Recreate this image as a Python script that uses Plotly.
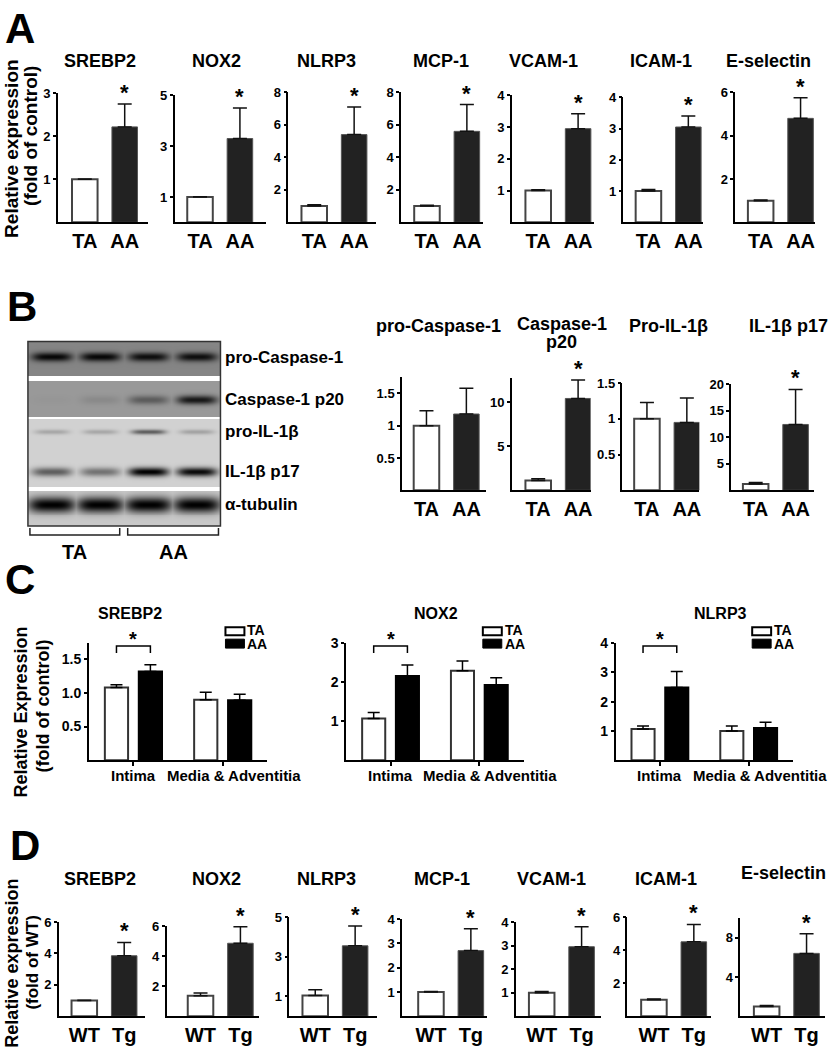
import numpy as np
import plotly.graph_objects as go

W, H = 831, 1050
FONT = "Liberation Sans, Arial, Helvetica, sans-serif"

# ---------------- data ----------------
# A: TA vs AA, relative expression (fold of control)
a_genes = ["SREBP2", "NOX2", "NLRP3", "MCP-1", "VCAM-1", "ICAM-1", "E-selectin"]
a_ta = [1.0, 1.0, 1.0, 1.0, 1.0, 1.0, 1.0]
a_ta_err = [0.01, 0.01, 0.08, 0.06, 0.03, 0.05, 0.03]
a_aa = [2.22, 3.3, 5.4, 5.6, 2.95, 3.05, 4.8]
a_aa_err = [0.53, 1.2, 1.7, 1.65, 0.47, 0.35, 0.95]

# B: blot quantification
b_proteins = ["pro-Caspase-1", "Caspase-1<br>p20", "Pro-IL-1β", "IL-1β p17"]
b_ta = [1.0, 1.1, 1.0, 1.2]
b_ta_err = [0.23, 0.2, 0.23, 0.25]
b_aa = [1.18, 10.4, 0.95, 12.4]
b_aa_err = [0.4, 2.1, 0.34, 6.6]
b_sig = [False, True, False, True]

# B: blot band darkness per lane (lanes 1-2 TA, lanes 3-4 AA)
blot_labels = ["pro-Caspase-1", "Caspase-1 p20", "pro-IL-1β", "IL-1β p17", "α-tubulin"]
band_pro_casp1 = [0.95, 0.95, 0.9, 0.9]
band_casp1_p20 = [0.02, 0.1, 0.4, 0.85]
band_pro_il1b = [0.2, 0.2, 0.55, 0.22]
band_il1b_p17 = [0.55, 0.45, 1.0, 0.95]
band_tubulin = [1.0, 1.0, 1.0, 1.0]

# C: intima vs media & adventitia
c_genes = ["SREBP2", "NOX2", "NLRP3"]
c_groups = ["Intima", "Media & Adventitia"]
c_ta = [[1.08, 0.9], [1.07, 2.29], [1.07, 1.0]]
c_ta_err = [[0.04, 0.11], [0.15, 0.25], [0.1, 0.17]]
c_aa = [[1.32, 0.89], [2.16, 1.93], [2.48, 1.1]]
c_aa_err = [[0.1, 0.09], [0.28, 0.18], [0.55, 0.2]]

# D: WT vs Tg (fold of WT)
d_genes = ["SREBP2", "NOX2", "NLRP3", "MCP-1", "VCAM-1", "ICAM-1", "E-selectin"]
d_wt = [1.0, 1.37, 1.05, 1.0, 1.0, 1.0, 1.0]
d_wt_err = [0.02, 0.18, 0.28, 0.02, 0.05, 0.04, 0.1]
d_tg = [3.85, 4.85, 3.55, 2.7, 2.95, 4.5, 6.4]
d_tg_err = [0.85, 1.1, 1.0, 0.9, 0.85, 1.05, 2.0]

# ---------------- layout (pixels) ----------------
A_LEFT = [58, 175, 289, 402, 513, 625, 737]
A_RIGHT = [148, 267, 377, 484, 595, 705, 817]
A_TOP = [86, 88, 85, 85, 88, 90, 85]
A_YMAX = [3, 5, 8, 8, 4, 4, 6]
A_TICKS = [[1, 2, 3], [1, 3, 5], [2, 4, 6, 8], [2, 4, 6, 8], [1, 2, 3, 4], [1, 2, 3, 4], [2, 4, 6]]
A_OFF = [27, 25.5, 26, 26, 26.5, 25, 25.5]
A_TITLE_X = [100, 217, 327, 442, 545, 663, 770]

B_LEFT = [403, 513, 624, 733]
B_RIGHT = [487, 592, 701, 816]
B_TOP = [372, 373, 378, 379]
B_YMAX = [1.75, 12.7, 1.5, 20]
B_TICKS = [[0.5, 1, 1.5], [5, 10], [0.5, 1, 1.5], [5, 10, 15, 20]]
B_OFF = [24.5, 26.5, 24.5, 24.5]
B_TITLE_X = [440, 563, 670, 790]

C_LEFT = [89, 347, 617]
C_RIGHT = [268, 525, 795]
C_YMAX = [1.74, 3, 4]
C_TICKS = [[0.5, 1.0, 1.5], [1, 2, 3], [1, 2, 3, 4]]
C_TICKTEXT = [["0.5", "1.0", "1.5"], ["1", "2", "3"], ["1", "2", "3", "4"]]
C_TITLE_X = [130, 437, 722]

D_LEFT = [59, 167, 290, 403, 517, 629, 742]
D_RIGHT = [145, 260, 378, 488, 602, 713, 827]
D_TOP = [921, 925, 916, 918, 921, 916, 917]
D_YMAX = [6, 6, 5, 4, 4, 6, 10]
D_TICKS = [[2, 4, 6], [2, 4, 6], [1, 3, 5], [1, 2, 3, 4], [1, 2, 3, 4], [2, 4, 6], [4, 8]]
D_OFF = [25.5, 34, 26, 29, 26, 26.5, 26.5]
D_TITLE_X = [100, 217, 327, 443, 553, 668, 785]

fig = go.Figure()
layout = {}
annotations = []
shapes = []


def px_x(v):
    return v / W


def px_y(v):
    return 1 - v / H


def refs(n):
    return ("x" if n == 1 else f"x{n}"), ("y" if n == 1 else f"y{n}")


def text(x, y, s, size, bold=True, angle=0, xanchor="center", yanchor="middle"):
    annotations.append(dict(
        x=px_x(x), y=px_y(y), xref="paper", yref="paper", showarrow=False,
        text=f"<b>{s}</b>" if bold else s, textangle=angle,
        xanchor=xanchor, yanchor=yanchor,
        font=dict(family=FONT, size=size, color="black")))


def pair_chart(n, left, right, base, top, ymax, ticks, off, vals, errs, cats, sig, sp=40):
    xr, yr = refs(n)
    fig.add_trace(go.Bar(
        x=[0, 1], y=vals, width=0.64, xaxis=xr, yaxis=yr, cliponaxis=False,
        marker=dict(color=["white", "#222222"],
                    line=dict(color=["#444444", "#555555"], width=[2, 1])),
        error_y=dict(type="data", array=errs, arrayminus=[0, 0], symmetric=False,
                     color="#111111", thickness=1.5, width=7),
        hoverinfo="skip"))
    x0 = -off / sp
    layout["xaxis" if n == 1 else f"xaxis{n}"] = dict(
        domain=[px_x(left), px_x(right)], anchor=yr, range=[x0, x0 + (right - left) / sp],
        tickvals=[0, 1], ticktext=cats, ticks="", showline=True, linecolor="black",
        linewidth=1.5, showgrid=False, zeroline=False,
        tickfont=dict(family=FONT, size=20, color="black", weight="bold"))
    layout["yaxis" if n == 1 else f"yaxis{n}"] = dict(
        domain=[px_y(base), px_y(top)], anchor=xr, range=[0, ymax],
        tickvals=ticks, ticks="outside", ticklen=3, tickwidth=1.5, tickcolor="black",
        showline=True, linecolor="black", linewidth=1.5, showgrid=False, zeroline=False,
        tickfont=dict(family=FONT, size=13, color="black", weight="bold"))
    if sig:
        annotations.append(dict(
            x=1, y=vals[1] + errs[1], xref=xr, yref=yr, showarrow=False,
            text="<b>*</b>", yanchor="bottom", yshift=-3,
            font=dict(family=FONT, size=22, color="black")))


def group_chart(n, left, right, base, top, ymax, ticks, ticktext, ta, ta_e, aa, aa_e):
    xr, yr = refs(n)
    g = np.arange(len(c_groups))
    for dx, vals, errs, fill, edge in [(-0.19, ta, ta_e, "white", "#333333"),
                                        (0.19, aa, aa_e, "black", "black")]:
        fig.add_trace(go.Bar(
            x=g + dx, y=vals, width=0.26, xaxis=xr, yaxis=yr, cliponaxis=False,
            marker=dict(color=fill, line=dict(color=edge, width=2)),
            error_y=dict(type="data", array=errs, arrayminus=[0, 0], symmetric=False,
                         color="black", thickness=1.5, width=6),
            hoverinfo="skip"))
    layout["xaxis" if n == 1 else f"xaxis{n}"] = dict(
        domain=[px_x(left), px_x(right)], anchor=yr, range=[-0.5, 1.5],
        tickvals=list(g), ticktext=["", ""], ticks="outside", ticklen=4, tickwidth=1.5,
        tickcolor="black", showline=True, linecolor="black", linewidth=1.5,
        showgrid=False, zeroline=False)
    layout["yaxis" if n == 1 else f"yaxis{n}"] = dict(
        domain=[px_y(base), px_y(top)], anchor=xr, range=[0, ymax],
        tickvals=ticks, ticktext=ticktext, ticks="outside", ticklen=3, tickwidth=1.5,
        tickcolor="black", showline=True, linecolor="black", linewidth=1.5,
        showgrid=False, zeroline=False,
        tickfont=dict(family=FONT, size=14, color="black", weight="bold"))
    # category labels
    for gi, name in enumerate(c_groups):
        annotations.append(dict(
            x=gi, y=0, xref=xr, yref=yr, showarrow=False, text=f"<b>{name}</b>",
            yanchor="top", yshift=-5, xshift=11 if gi == 1 else 0,
            font=dict(family=FONT, size=15, color="black")))
    # significance bracket over intima
    yb, drop = 0.975 * ymax, 0.06 * ymax
    shapes.append(dict(type="path", xref=xr, yref=yr,
                       path=f"M -0.19,{yb - drop} L -0.19,{yb} L 0.19,{yb} L 0.19,{yb - drop}",
                       line=dict(color="black", width=1.5)))
    annotations.append(dict(x=0, y=yb, xref=xr, yref=yr, showarrow=False, text="<b>*</b>",
                            yanchor="bottom", yshift=-6,
                            font=dict(family=FONT, size=20, color="black")))
    # legend
    lx = left + 137
    shapes.append(dict(type="rect", xref="paper", yref="paper", x0=px_x(lx), x1=px_x(lx + 19),
                       y0=px_y(632), y1=px_y(624), line=dict(color="black", width=2),
                       fillcolor="white"))
    shapes.append(dict(type="rect", xref="paper", yref="paper", x0=px_x(lx), x1=px_x(lx + 19),
                       y0=px_y(645), y1=px_y(636), line=dict(color="black", width=1),
                       fillcolor="black"))
    text(lx + 20, 627, "TA", 14, xanchor="left")
    text(lx + 20, 641, "AA", 14, xanchor="left")


# ---- Panel A ----
for i, gname in enumerate(a_genes):
    pair_chart(i + 1, A_LEFT[i], A_RIGHT[i], 216, A_TOP[i], A_YMAX[i], A_TICKS[i], A_OFF[i],
               [a_ta[i], a_aa[i]], [a_ta_err[i], a_aa_err[i]], ["TA", "AA"], True)
    text(A_TITLE_X[i], 53, gname, 18)

# ---- Panel B charts ----
for i, pname in enumerate(b_proteins):
    pair_chart(8 + i, B_LEFT[i], B_RIGHT[i], 486, B_TOP[i], B_YMAX[i], B_TICKS[i], B_OFF[i],
               [b_ta[i], b_aa[i]], [b_ta_err[i], b_aa_err[i]], ["TA", "AA"], b_sig[i])
    parts = pname.split("<br>")
    if len(parts) == 1:
        text(B_TITLE_X[i], 320, parts[0], 18)
    else:
        text(B_TITLE_X[i], 318, parts[0], 18)
        text(B_TITLE_X[i], 337, parts[1], 18)

# ---- Panel C ----
for i, gname in enumerate(c_genes):
    group_chart(12 + i, C_LEFT[i], C_RIGHT[i], 758, 640, C_YMAX[i], C_TICKS[i], C_TICKTEXT[i],
                c_ta[i], c_ta_err[i], c_aa[i], c_aa_err[i])
    text(C_TITLE_X[i], 610, gname, 16)

# ---- Panel D ----
for i, gname in enumerate(d_genes):
    pair_chart(15 + i, D_LEFT[i], D_RIGHT[i], 1016, D_TOP[i], D_YMAX[i], D_TICKS[i], D_OFF[i],
               [d_wt[i], d_tg[i]], [d_wt_err[i], d_tg_err[i]], ["WT", "Tg"], True)
    text(D_TITLE_X[i], 878 if i < 6 else 872, gname, 18)

# ---- Panel B western blot (image built from band darkness) ----
BX0, BX1, BY0, BY1 = 28, 221, 336, 522
nx, ny = BX1 - BX0, BY1 - BY0
xs = 0.5 + (np.arange(nx) + 0.5) * 4 / nx
ys = np.arange(ny) + 0.5
z = np.zeros((ny, nx))
strips = [(0, 35, 0.48), (40, 76, 0.40), (78, 146, 0.18), (150, 186, 0.21)]
for s0, s1, bg in strips:
    z[(ys >= s0) & (ys < s1), :] = bg
bands = [(16, 4.5, 0.42, band_pro_casp1, 0), (59, 4.5, 0.42, band_casp1_p20, 1),
         (91, 2.5, 0.36, band_pro_il1b, 2), (131, 4.5, 0.42, band_il1b_p17, 2),
         (164, 8.0, 0.5, band_tubulin, 3)]
for yc, sy, wx, inten, si in bands:
    s0, s1, bg = strips[si]
    rows = (ys >= s0) & (ys < s1)
    py = np.exp(-((ys - yc) / sy) ** 2)
    for lane, val in enumerate(inten):
        pxp = np.exp(-np.abs((xs - (lane + 1)) / wx) ** 4)
        band = bg + (1 - bg) * val * np.outer(py, pxp)
        z[rows, :] = np.maximum(z[rows, :], band[rows, :])

fig.add_trace(go.Heatmap(z=z, x=xs, y=ys, xaxis="x22", yaxis="y22", zmin=0, zmax=1,
                         colorscale=[[0, "#ffffff"], [1, "#000000"]], showscale=False,
                         hoverinfo="skip"))
layout["xaxis22"] = dict(domain=[px_x(BX0), px_x(BX1)], anchor="y22", range=[0.5, 4.5],
                         visible=False)
layout["yaxis22"] = dict(domain=[px_y(BY1), px_y(BY0)], anchor="x22", range=[ny, 0],
                         visible=False)
shapes.append(dict(type="rect", xref="paper", yref="paper", x0=px_x(BX0), x1=px_x(BX1),
                   y0=px_y(BY1), y1=px_y(BY0), line=dict(color="#333333", width=1.5)))
for lab, yl in zip(blot_labels, [352, 395, 427, 467, 500]):
    text(224, yl, lab, 17, xanchor="left")
for x0, x1, lab in [(30, 120, "TA"), (128, 219, "AA")]:
    shapes.append(dict(type="path", xref="paper", yref="paper",
                       path=f"M {px_x(x0)},{px_y(524)} L {px_x(x0)},{px_y(531)} "
                            f"L {px_x(x1)},{px_y(531)} L {px_x(x1)},{px_y(524)}",
                       line=dict(color="#222222", width=1.5)))
    text((x0 + x1) / 2, 548, lab, 20)

# ---- panel letters & axis titles ----
text(20, 21, "A", 42)
text(22, 301, "B", 42)
text(20, 576, "C", 42)
text(25, 844, "D", 42)
text(12, 142, "Relative expression", 19, angle=-90)
text(30, 129, "(fold of control)", 19, angle=-90)
text(21, 709, "Relative Expression", 18, angle=-90)
text(43, 703, "(fold of control)", 18, angle=-90)
text(12, 962, "Relative expression", 18, angle=-90)
text(33, 962, "(fold of WT)", 17, angle=-90)

fig.update_layout(
    width=W, height=H, margin=dict(l=0, r=0, t=0, b=0),
    paper_bgcolor="white", plot_bgcolor="white", showlegend=False,
    barmode="overlay", font=dict(family=FONT, color="black"),
    annotations=annotations, shapes=shapes, **layout)

# drop the default page margin so the 831x1050 figure fills the window exactly
fig.write_html("out.html", config={"displayModeBar": False},
               post_script="document.body.style.margin='0';document.body.style.overflow='hidden';")
